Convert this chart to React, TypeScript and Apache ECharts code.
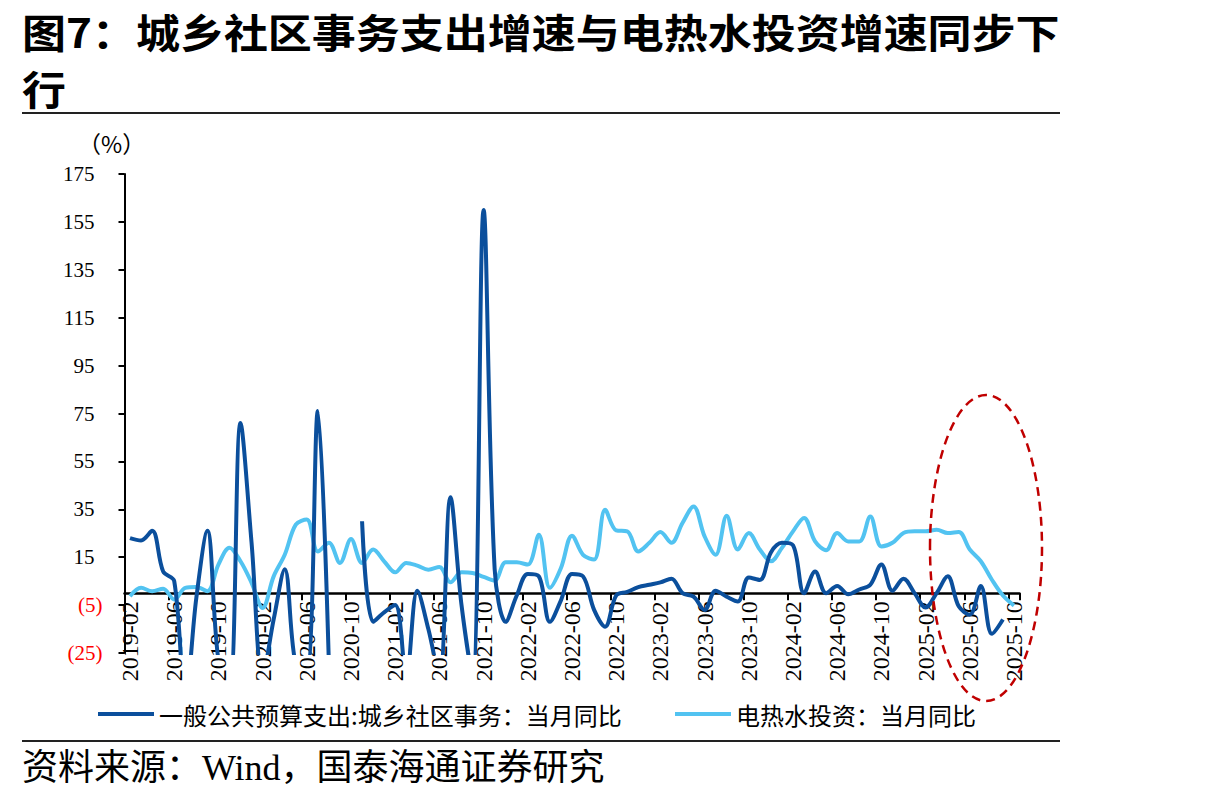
import React, { useEffect, useRef } from "react";
import * as echarts from "echarts";

// ---- data ----
const startYear = 2019;
const startMonth = 2;
const monthCount = 81; // 2019-02 .. 2025-10
const categories: string[] = [];
for (let k = 0; k < monthCount; k++) {
  const m0 = startMonth - 1 + k;
  const y = startYear + Math.floor(m0 / 12);
  const m = (m0 % 12) + 1;
  categories.push(`${y}-${m < 10 ? "0" + m : m}`);
}

const seriesNames = ["一般公共预算支出:城乡社区事务：当月同比", "电热水投资：当月同比"];

// 一般公共预算支出:城乡社区事务：当月同比 (%)
const communityExpense: (number | null)[] = [
  23, 22, 26, 9, 5, -45, -2, 26, -28, -40,
  71, 21, -35, -11, 10, -30, -32, 76, -30, null,
  null, 30, -12, -8, -5, -35, 1, -15, -35, 40,
  -5, -35, 160, 10, -12, -1, 8, 7, -12, -3,
  8, 7, -7, -14, -1, 0.5, 2.5, 3.5, 4.5, 6,
  0, -1.5, -7, 1, -1.5, -3.5, 6.5, 5.5, 17, 21,
  20, 0, 9, 0, 3, -0.5, 1.5, 3.5, 12, 1,
  6, 0, -6, 0, 7, -5.5, -9, 3, -17, -11,
  null,
];

// 电热水投资：当月同比 (%)
const waterHeaterInvest: number[] = [
  -1.3, 2.2, 0.8, 1.8, -2.7, 2.2, 2.6, 0.8, 11.9, 18.9,
  13.3, 4.3, -6.2, 7, 16, 28.6, 30.7, 17.4, 21, 12.6,
  22.6, 12.6, 18.2, 13.3, 8.7, 12.6, 11.5, 9.8, 10.9, 4.5,
  8.7, 8.4, 6.8, 5.3, 12.9, 12.9, 11.9, 24.4, 2.2, 10.5,
  24, 16, 14, 34.8, 26.2, 25.8, 17.4, 21, 25.5, 21,
  29.3, 36.2, 23.7, 16, 32.3, 18.2, 25.1, 18.2, 13.3, 18.9,
  25.8, 31.4, 21.6, 17.9, 25.1, 21.6, 21.6, 32, 19.5, 21,
  25.1, 25.8, 25.8, 26.5, 25.1, 25.5, 18.2, 13.3, 5.6, -1,
  -5.2,
];

const yMin = -25;
const yMax = 175;
const yInterval = 20;

const titleLine1 = "图7：城乡社区事务支出增速与电热水投资增速同步下";
const titleLine2 = "行";
const sourceText = "资料来源：Wind，国泰海通证券研究";
const unitText = "（%）";

const DARK = "#0B4F9C";
const LIGHT = "#52C3F1";
const SERIF = "'Liberation Serif', 'Times New Roman', serif";
const CJK = "'Noto Sans CJK SC', sans-serif";

export default function App() {
  const ref = useRef<HTMLDivElement>(null);

  useEffect(() => {
    document.body.style.margin = "0";
    if (!ref.current) return;
    const chart = echarts.init(ref.current, undefined, { renderer: "svg" });
    const gridTop = 174;
    const gridBottom = 147;
    const plotH = 800 - gridTop - gridBottom;
    // distance from grid bottom up to the zero line
    const zeroOffset = (plotH * (0 - yMin)) / (yMax - yMin);
    const option: any = {
      animation: false,
      backgroundColor: "#ffffff",
      grid: {
        left: 124.5,
        right: 196.5,
        top: gridTop,
        bottom: gridBottom,
        containLabel: false,
        outerBoundsMode: "none",
      },
      legend: [
        {
          left: 93,
          top: 697,
          data: [seriesNames[0]],
          icon: "rect",
          itemWidth: 56,
          itemHeight: 4,
          selectedMode: false,
          textStyle: { fontFamily: CJK, fontSize: 24, color: "#000" },
        },
        {
          left: 670,
          top: 697,
          data: [seriesNames[1]],
          icon: "rect",
          itemWidth: 56,
          itemHeight: 4,
          selectedMode: false,
          textStyle: { fontFamily: CJK, fontSize: 24, color: "#000" },
        },
      ],
      xAxis: {
        type: "category",
        data: categories,
        boundaryGap: true,
        position: "bottom",
        offset: -zeroOffset,
        axisLine: { show: true, onZero: false, lineStyle: { color: "#000", width: 2.5 } },
        axisTick: { show: true, interval: 3, length: 7, lineStyle: { color: "#000", width: 2 } },
        axisLabel: {
          interval: 3,
          rotate: 90,
          margin: 8,
          fontSize: 24,
          fontFamily: SERIF,
          color: "#000",
        },
        splitLine: { show: false },
      },
      yAxis: {
        type: "value",
        min: yMin,
        max: yMax,
        interval: yInterval,
        axisLine: { show: true, lineStyle: { color: "#000", width: 2 } },
        axisTick: { show: true, length: 6, lineStyle: { color: "#000", width: 2 } },
        splitLine: { show: false },
        axisLabel: {
          margin: 22,
          formatter: (v: number) => (v < 0 ? `{neg|(${-v})}` : `{pos|${v}}`),
          rich: {
            neg: { color: "#FF0000", fontSize: 21, fontFamily: SERIF },
            pos: { color: "#000", fontSize: 21, fontFamily: SERIF, padding: [0, 8, 0, 0] },
          },
        },
      },
      series: [
        {
          name: seriesNames[0],
          type: "line",
          data: communityExpense,
          smooth: 0.35,
          symbol: "none",
          connectNulls: false,
          clip: true,
          lineStyle: { color: DARK, width: 4 },
          itemStyle: { color: DARK },
          z: 3,
        },
        {
          name: seriesNames[1],
          type: "line",
          data: waterHeaterInvest,
          smooth: 0.35,
          symbol: "none",
          clip: true,
          lineStyle: { color: LIGHT, width: 4 },
          itemStyle: { color: LIGHT },
          z: 2,
        },
      ],
      graphic: [
        {
          type: "text",
          x: 22,
          y: 30,
          scaleX: 1.1,
          style: {
            text: titleLine1,
            fontFamily: CJK,
            fontSize: 40,
            fontWeight: "bold",
            fill: "#000",
            verticalAlign: "middle",
          },
        },
        {
          type: "text",
          x: 22,
          y: 87,
          scaleX: 1.1,
          style: {
            text: titleLine2,
            fontFamily: CJK,
            fontSize: 40,
            fontWeight: "bold",
            fill: "#000",
            verticalAlign: "middle",
          },
        },
        {
          type: "line",
          shape: { x1: 22, y1: 113, x2: 1060, y2: 113 },
          style: { stroke: "#222", lineWidth: 2 },
        },
        {
          type: "line",
          shape: { x1: 22, y1: 741, x2: 1060, y2: 741 },
          style: { stroke: "#222", lineWidth: 2 },
        },
        {
          type: "text",
          x: 78,
          y: 143,
          style: {
            text: unitText,
            fontFamily: CJK,
            fontSize: 23,
            fill: "#000",
            verticalAlign: "middle",
          },
        },
        {
          type: "text",
          x: 22,
          y: 768,
          style: {
            text: sourceText,
            fontFamily: "'Liberation Serif', 'Noto Sans CJK SC', serif",
            fontSize: 36,
            fill: "#000",
            verticalAlign: "middle",
          },
        },
        {
          type: "ellipse",
          z: 100,
          shape: { cx: 986, cy: 548, rx: 56, ry: 153 },
          style: { fill: "none", stroke: "#C00000", lineWidth: 2.5, lineDash: [9, 6] },
        },
      ],
    };
    chart.setOption(option);
    return () => chart.dispose();
  }, []);

  return <div ref={ref} style={{ width: 1216, height: 800 }} />;
}
